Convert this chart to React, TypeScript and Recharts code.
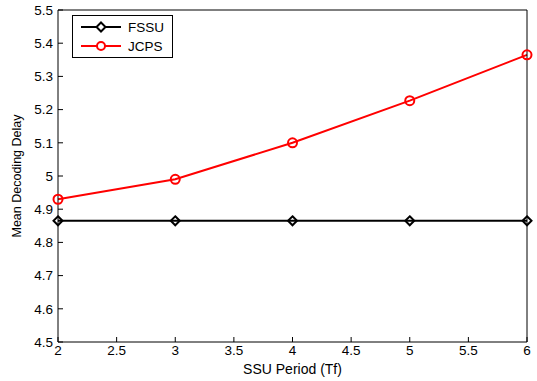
import React from 'react'
import { LineChart, Line, XAxis, YAxis } from 'recharts'

const periods = [2, 3, 4, 5, 6]
const fssu = [4.865, 4.865, 4.865, 4.865, 4.865]
const jcps = [4.93, 4.99, 5.1, 5.227, 5.365]
const xTicks = [2, 2.5, 3, 3.5, 4, 4.5, 5, 5.5, 6]
const yTicks = [4.5, 4.6, 4.7, 4.8, 4.9, 5, 5.1, 5.2, 5.3, 5.4, 5.5]

const data = periods.map((p, i) => ({ x: p, fssu: fssu[i], jcps: jcps[i] }))

const FONT = 'Liberation Sans, Arial, Helvetica, sans-serif'

const Diamond = (props: any) => {
  const { cx, cy, index } = props
  const s = 4.5
  return (
    <path
      key={`d-${index}`}
      d={`M${cx},${cy - s}L${cx + s},${cy}L${cx},${cy + s}L${cx - s},${cy}Z`}
      fill="none"
      stroke="#000"
      strokeWidth={2}
    />
  )
}

const Circle = (props: any) => {
  const { cx, cy, index } = props
  return <circle key={`c-${index}`} cx={cx} cy={cy} r={4.5} fill="none" stroke="#ff0000" strokeWidth={2} />
}

const LegendBox = () => (
  <div
    style={{
      position: 'absolute',
      left: 72,
      top: 15,
      width: 101,
      height: 43,
      border: '1px solid #000',
      background: '#fff',
      boxSizing: 'border-box',
    }}
  >
    <svg width={99} height={41} style={{ display: 'block' }}>
      <line x1={8} y1={11} x2={48} y2={11} stroke="#000" strokeWidth={2} />
      <path d="M28,6.5L32.5,11L28,15.5L23.5,11Z" fill="#fff" stroke="#000" strokeWidth={2} />
      <text x={55} y={15.5} fontSize={13.5} fontFamily={FONT} fill="#000">FSSU</text>
      <line x1={8} y1={30} x2={48} y2={30} stroke="#ff0000" strokeWidth={2} />
      <circle cx={28} cy={30} r={4} fill="#fff" stroke="#ff0000" strokeWidth={2} />
      <text x={55} y={34.5} fontSize={13.5} fontFamily={FONT} fill="#000">JCPS</text>
    </svg>
  </div>
)

export default function App() {
  return (
    <div style={{ position: 'absolute', left: 0, top: 0, width: 537, height: 381, background: '#fff' }}>
      <LineChart width={537} height={381} data={data} margin={{ top: 9, right: 9, bottom: 0, left: 0 }}>
        <XAxis
          dataKey="x"
          type="number"
          domain={[2, 6]}
          ticks={xTicks}
          interval={0}
          height={39}
          tickSize={-5}
          tickMargin={8}
          stroke="#000"
          tick={{ fill: '#000', fontSize: 13.5, fontFamily: FONT }}
          label={{ value: 'SSU Period (Tf)', position: 'insideBottom', offset: 7, fill: '#000', fontSize: 14, fontFamily: FONT }}
        />
        <XAxis
          xAxisId="top"
          dataKey="x"
          orientation="top"
          type="number"
          domain={[2, 6]}
          ticks={xTicks}
          interval={0}
          height={1}
          tickSize={-5}
          tick={false}
          stroke="#000"
        />
        <YAxis
          type="number"
          domain={[4.5, 5.5]}
          ticks={yTicks}
          interval={0}
          width={58}
          tickSize={-5}
          tickMargin={10}
          stroke="#000"
          tickFormatter={(v: number) => String(Number(v.toFixed(1)))}
          tick={{ fill: '#000', fontSize: 13.5, fontFamily: FONT }}
          label={{ value: 'Mean Decoding Delay', angle: -90, position: 'insideLeft', offset: 17, style: { textAnchor: 'middle' }, fill: '#000', fontSize: 12.5, fontFamily: FONT }}
        />
        <YAxis
          yAxisId="right"
          orientation="right"
          type="number"
          domain={[4.5, 5.5]}
          ticks={yTicks}
          interval={0}
          width={1}
          tickSize={-5}
          tick={false}
          stroke="#000"
        />
        {/* invisible series so the mirrored top/right axes get drawn */}
        <Line
          xAxisId="top"
          yAxisId="right"
          dataKey="fssu"
          stroke="none"
          dot={false}
          activeDot={false}
          isAnimationActive={false}
        />
        <Line
          dataKey="fssu"
          stroke="#000"
          strokeWidth={2}
          dot={Diamond}
          activeDot={false}
          isAnimationActive={false}
        />
        <Line
          dataKey="jcps"
          stroke="#ff0000"
          strokeWidth={2}
          dot={Circle}
          activeDot={false}
          isAnimationActive={false}
        />
      </LineChart>
      <LegendBox />
    </div>
  )
}
